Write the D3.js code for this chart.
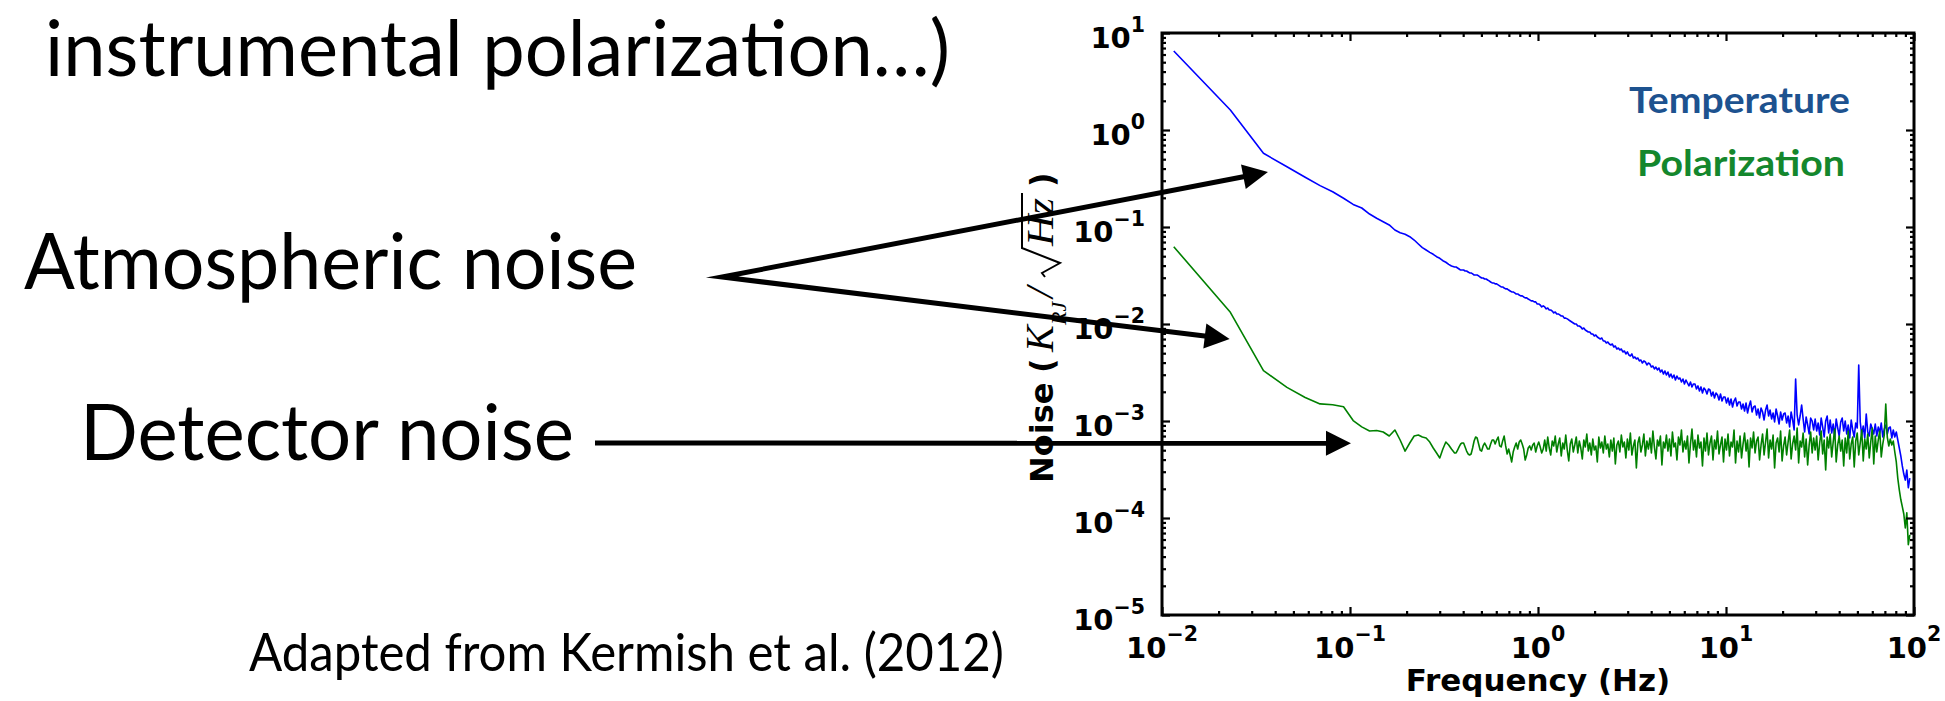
<!DOCTYPE html>
<html>
<head>
<meta charset="utf-8">
<script src="https://cdn.jsdelivr.net/npm/d3@7"></script>
<style>
  html, body { margin: 0; padding: 0; background: #fff; }
  svg { display: block; }
  .slide { font-family: Lato, "Open Sans", sans-serif; font-weight: 400; fill: #000; }
  .axlab { font-family: "DejaVu Sans", sans-serif; font-weight: bold; fill: #000; }
  .math { font-family: "Liberation Serif", "DejaVu Serif", serif; font-style: italic; fill: #000; }
  .legend { font-family: Lato, "Open Sans", sans-serif; font-weight: 700; }
</style>
</head>
<body>
<svg id="fig" width="1945" height="701"></svg>
<script>
// ---- spectra, in µK_RJ/√Hz ----
const UK = 1e-6;
const BIN = 0.01155;              // Hz, width of the low-frequency PSD bins

// first 30 bins, f = k·BIN
const tempLow = [6520000, 1607000, 575000, 418000, 326000, 267000, 231000, 198000, 171000, 157000,
  136000, 123000, 113500, 105000, 93100, 87300, 84100, 79400, 73400, 66800,
  61200, 57900, 54800, 52300, 49400, 47600, 44900, 43300, 41200, 39600];
const polLow = [62600, 13200, 3300, 2220, 1750, 1500, 1470, 1400, 1010, 870,
  789, 798, 770, 700, 808, 637, 490, 593, 700, 717,
  684, 668, 607, 527, 468, 416, 514, 607, 566, 514];

// log-spaced samples from 0.36 Hz to 95 Hz
const gridStart = 0.36, gridEnd = 95;
const tempHigh = [
  38700,38700,37800,36900,36000,36000,36000,35200,35200,34400,
  33600,33600,32800,32000,32000,32000,31300,30500,29800,29800,
  29100,29100,28400,27800,27100,26500,26500,25900,25900,25300,
  24700,24100,24100,23500,23000,23000,22400,21900,21400,21400,
  20900,20400,20400,19900,19500,19500,19000,18600,18600,18100,
  17700,17300,17300,16900,16900,16100,16100,15700,15000,15400,
  15000,14300,14600,13950,13950,13600,13000,13300,12700,12700,
  12400,12100,12100,11500,11500,11300,11000,10740,10490,10240,
  10000,10000,9540,9540,9320,8880,9100,8675,8470,8270,
  8270,7890,7890,7520,7700,7350,7170,7010,7170,6680,
  6680,6370,6520,6220,6080,6220,5790,5930,5520,5660,
  5397,5520,5150,5270,4910,5150,4790,4680,4910,4460,
  4570,4360,4460,4160,4256,3960,4160,4060,3780,3960,
  3870,3600,3690,3440,3600,3356,3520,3200,3356,3050,
  3280,2980,3200,2845,3050,2775,2980,2647,2910,2710,
  2775,2525,2710,2410,2647,2465,2300,2525,2245,2410,
  2410,2140,2300,2040,2245,1945,2190,2088,1900,2140,
  2088,1810,1990,1725,1945,1855,1647,1900,1608,1770,
  1770,1533,1725,1462,1685,1394,1608,1725,1428,1570,
  1570,1330,1497,1268,1533,1209,1428,1608,1238,1394,
  1428,1153,1330,1074,1362,1238,1024,1298,1462,1126,
  1298,1049,1209,977,1330,1126,931,1238,1024,1181,
  1209,954,1126,867,1238,1024,808,2710,1153,910,
  1126,1462,1049,770,1100,910,735,1074,1000,808,
  1049,789,954,717,1074,867,684,1000,1126,752,
  1024,752,931,684,1049,847,700,977,1074,789,
  1000,735,910,668,1024,808,684,954,847,3780,
  977,717,888,668,1181,770,700,931,827,735,
  931,700,867,752,954,684,827,910,735,847,
  867,668,808,684,770,637,527,436,344,284,
  246,312,205,258];
const polHigh = [
  468,468,502,540,579,593,593,540,490,457,
  446,457,527,622,684,668,579,502,490,553,
  593,553,514,514,579,637,637,579,637,684,
  553,540,622,700,553,457,514,446,378,479,
  540,593,514,607,637,579,514,396,446,527,
  553,502,566,593,479,553,607,540,468,514,
  637,490,684,527,446,622,553,700,479,579,
  668,436,593,514,717,502,387,579,652,479,
  566,684,468,622,527,406,637,540,735,490,
  593,446,652,502,553,378,684,527,607,468,
  700,514,579,426,637,490,668,360,566,622,
  479,717,540,607,416,652,502,752,446,553,
  637,328,593,684,479,566,735,436,622,514,
  668,468,789,540,406,637,553,700,352,607,
  527,717,490,652,436,770,540,593,396,684,
  566,808,479,622,514,700,369,579,827,502,
  637,426,717,527,607,344,668,490,752,446,
  593,700,396,637,514,789,457,566,684,378,
  652,502,735,436,607,540,808,369,622,479,
  700,416,579,752,490,637,336,668,527,770,
  468,622,684,396,566,735,446,607,827,416,
  637,514,717,328,593,668,479,789,387,553,
  684,446,607,808,406,579,700,502,847,369,
  622,540,752,426,652,352,566,770,468,668,
  502,700,396,593,789,457,637,312,684,527,
  735,426,607,827,378,566,700,490,637,344,
  668,468,789,406,579,684,336,622,752,446,
  593,808,387,652,514,735,416,607,847,360,
  700,479,637,789,426,579,717,1497,684,553,
  652,566,622,479,378,256,195,155,131,110,
  79,113,53,67];

const seriesNames = ["Temperature", "Polarization"];
const seriesColors = ["#0000ff", "#008000"];
const legendColors = ["#1d528f", "#14872d"];

const xTicks = [0.01, 0.1, 1, 10, 100];
const xTickExp = ["\u22122", "\u22121", "0", "1", "2"];
const yTicks = [1e-5, 1e-4, 1e-3, 1e-2, 1e-1, 1, 10];
const yTickExp = ["\u22125", "\u22124", "\u22123", "\u22122", "\u22121", "0", "1"];

// annotation arrows point at these spectrum locations (Hz, K/√Hz)
const atmTips = [{ f: 0.0366, v: 0.369 }, { f: 0.0229, v: 0.0070 }];
const detTip = { f: 0.1012, v: 5.9e-4 };

// ---- layout ----
const svg = d3.select("#fig");
const P = { left: 1162, right: 1914, top: 33, bottom: 615 };

const x = d3.scaleLog().domain([0.01, 100]).range([P.left, P.right]);
const y = d3.scaleLog().domain([1e-5, 10]).range([P.bottom, P.top]);

const gridScale = d3.scaleLog().domain([gridStart, gridEnd]);
function highFreq(i, n) { return gridScale.invert(i / (n - 1)); }

function buildSeries(low, high) {
  const a = low.map((v, i) => ({ f: (i + 1) * BIN, v: v * UK }));
  const b = high.map((v, i) => ({ f: highFreq(i, high.length), v: v * UK }));
  return a.concat(b);
}
const series = [buildSeries(tempLow, tempHigh), buildSeries(polLow, polHigh)];

const line = d3.line().x(d => x(d.f)).y(d => y(d.v));

svg.append("g").selectAll("path").data(series).join("path")
  .attr("d", line)
  .attr("fill", "none")
  .attr("stroke", (d, i) => seriesColors[i])
  .attr("stroke-width", 1.6)
  .attr("stroke-linejoin", "round");

// ---- frame and ticks ----
const minorOf = decades => decades.flatMap(d => d3.range(2, 10).map(m => m * d));
const xMinor = minorOf([0.01, 0.1, 1, 10]);
const yMinor = minorOf([1e-5, 1e-4, 1e-3, 1e-2, 1e-1, 1]);

function tickAxis(makeAxis, vals, size) {
  return g => {
    g.call(makeAxis().tickValues(vals).tickSize(-size).tickFormat(""));
    g.select(".domain").remove();
    g.selectAll(".tick line").attr("stroke", "#000").attr("stroke-width", 2.2);
  };
}
const sides = [
  [() => d3.axisBottom(x), `translate(0,${P.bottom})`, xTicks, xMinor],
  [() => d3.axisTop(x), `translate(0,${P.top})`, xTicks, xMinor],
  [() => d3.axisLeft(y), `translate(${P.left},0)`, yTicks, yMinor],
  [() => d3.axisRight(y), `translate(${P.right},0)`, yTicks, yMinor]
];
sides.forEach(([makeAxis, tr, major, minor]) => {
  svg.append("g").attr("transform", tr).call(tickAxis(makeAxis, minor, 4));
  svg.append("g").attr("transform", tr).call(tickAxis(makeAxis, major, 8));
});

svg.append("rect")
  .attr("x", P.left).attr("y", P.top)
  .attr("width", P.right - P.left).attr("height", P.bottom - P.top)
  .attr("fill", "none").attr("stroke", "#000").attr("stroke-width", 3);

// tick labels: 10 with a superscript exponent
svg.append("g").selectAll("text").data(xTicks).join("text")
  .attr("class", "axlab").attr("text-anchor", "middle")
  .attr("x", d => x(d)).attr("y", 658)
  .style("font-size", "29px")
  .each(function (d, i) {
    const t = d3.select(this);
    t.append("tspan").text("10");
    t.append("tspan").attr("dy", -17).style("font-size", "20.5px").text(xTickExp[i]);
  });
svg.append("g").selectAll("text").data(yTicks).join("text")
  .attr("class", "axlab").attr("text-anchor", "end")
  .attr("x", 1145).attr("y", d => y(d) + 15)
  .style("font-size", "29px")
  .each(function (d, i) {
    const t = d3.select(this);
    t.append("tspan").text("10");
    t.append("tspan").attr("dy", -16).style("font-size", "20.5px").text(yTickExp[i]);
  });

// axis titles
svg.append("text").attr("class", "axlab").attr("text-anchor", "middle")
  .attr("x", (P.left + P.right) / 2).attr("y", 691)
  .style("font-size", "31px").text("Frequency (Hz)");

const yl = svg.append("g").attr("transform", "translate(1053,0) rotate(-90)");
yl.append("text").attr("class", "axlab").attr("x", -483).attr("y", 0)
  .style("font-size", "32px").text("Noise");
yl.append("text").attr("class", "axlab").attr("x", -373).attr("y", 0)
  .style("font-size", "32px").text("(");
yl.append("text").attr("class", "math").attr("x", -352).attr("y", 0)
  .style("font-size", "40px").text("K");
yl.append("text").attr("class", "math").attr("x", -325).attr("y", 13)
  .style("font-size", "22px").text("RJ");
yl.append("text").attr("class", "math").attr("x", -298).attr("y", 0)
  .style("font-size", "40px").text("/");
// radical sign with its vinculum over Hz
yl.append("path")
  .attr("d", "M-277,-8 L-273,-11 L-263,7 L-248,-31 L-193,-31")
  .attr("fill", "none").attr("stroke", "#000").attr("stroke-width", 2)
  .attr("stroke-linejoin", "miter");
yl.append("text").attr("class", "math").attr("x", -246).attr("y", 0)
  .attr("textLength", 48).attr("lengthAdjust", "spacingAndGlyphs")
  .style("font-size", "38px").text("Hz");
yl.append("text").attr("class", "axlab").attr("x", -187).attr("y", 0)
  .style("font-size", "32px").text(")");

// legend
const legendY = [113, 176], legendX = [1629, 1637], legendLen = [221, 208];
svg.append("g").selectAll("text").data(seriesNames).join("text")
  .attr("class", "legend")
  .attr("x", (d, i) => legendX[i]).attr("y", (d, i) => legendY[i])
  .attr("textLength", (d, i) => legendLen[i]).attr("lengthAdjust", "spacingAndGlyphs")
  .style("font-size", "37px")
  .attr("fill", (d, i) => legendColors[i])
  .text(d => d);

// ---- slide text ----
function slideText(str, x0, base, size, len) {
  return svg.append("text").attr("class", "slide")
    .attr("x", x0).attr("y", base)
    .attr("textLength", len).attr("lengthAdjust", "spacingAndGlyphs")
    .style("font-size", size + "px").text(str);
}
slideText("instrumental polarization\u2026)", 45, 76, 77, 905);
const atm = { x0: 24, base: 289, len: 613 };
const det = { x0: 80, base: 460, len: 494 };
slideText("Atmospheric noise", atm.x0, atm.base, 77, atm.len);
slideText("Detector noise", det.x0, det.base, 77, det.len);
slideText("Adapted from Kermish et al. (2012)", 249, 671, 53, 755);

// ---- arrows ----
const HEAD_L = 25, HEAD_W = 12.5;
function headAt(tail, tip) {
  const dx = tip[0] - tail[0], dy = tip[1] - tail[1];
  const n = Math.hypot(dx, dy), ux = dx / n, uy = dy / n;
  const bx = tip[0] - HEAD_L * ux, by = tip[1] - HEAD_L * uy;
  svg.append("polygon")
    .attr("points", [[tip[0], tip[1]], [bx - HEAD_W * uy, by + HEAD_W * ux], [bx + HEAD_W * uy, by - HEAD_W * ux]].join(" "))
    .attr("fill", "#000");
  return [tip[0] - (HEAD_L - 4) * ux, tip[1] - (HEAD_L - 4) * uy];
}
const vertex = [atm.x0 + atm.len + 85, atm.base - 12];
const atmEnds = atmTips.map(t => headAt(vertex, [x(t.f), y(t.v)]));
svg.append("path")
  .attr("d", d3.line()([atmEnds[0], vertex, atmEnds[1]]))
  .attr("fill", "none").attr("stroke", "#000").attr("stroke-width", 5)
  .attr("stroke-linejoin", "miter").attr("stroke-miterlimit", 10);

const detTail = [det.x0 + det.len + 21, det.base - 17];
const detEnd = headAt(detTail, [x(detTip.f), y(detTip.v)]);
svg.append("path")
  .attr("d", d3.line()([detTail, detEnd]))
  .attr("fill", "none").attr("stroke", "#000").attr("stroke-width", 5);
</script>
</body>
</html>
